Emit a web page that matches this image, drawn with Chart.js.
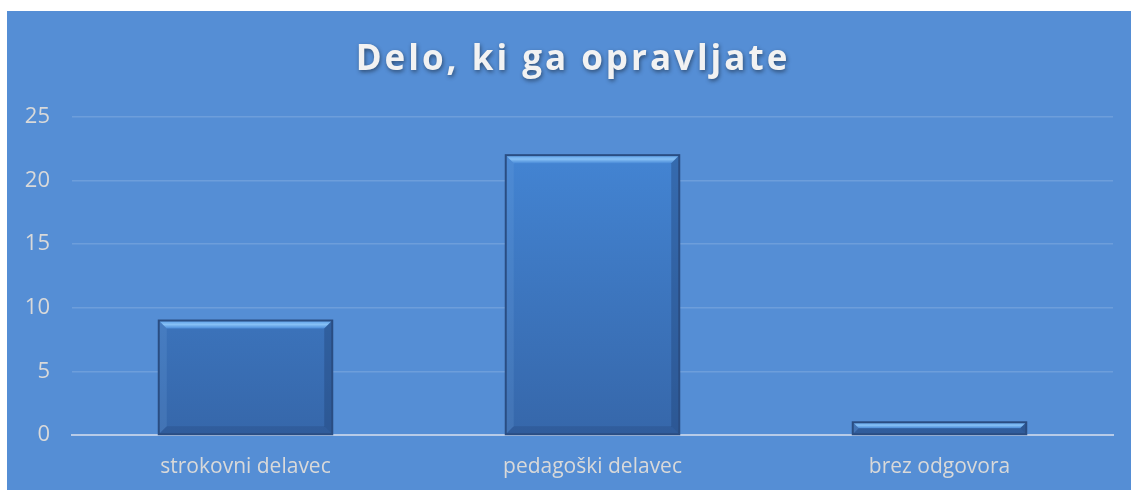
<!DOCTYPE html>
<html>
<head>
<meta charset="utf-8">
<script src="https://cdn.jsdelivr.net/npm/chart.js@4.4.1/dist/chart.umd.min.js"></script>
<style>
  html, body { margin: 0; padding: 0; background: #ffffff; }
  #okvir { position: absolute; left: 7px; top: 11px; width: 1124px; height: 479px; background: #558ed5; }
</style>
</head>
<body>
<div id="okvir"><canvas id="grafica" width="1124" height="479"></canvas></div>
<script>
const $grafica = document.querySelector("#grafica");

// podatki
const kategorije = ['strokovni delavec', 'pedagoški delavec', 'brez odgovora'];
const odgovori = [9, 22, 1];
const naslov = 'Delo, ki ga opravljate';

const pisava = "'Open Sans', 'Noto Sans', sans-serif";

// gradient za stolpce
function polnilo(context) {
    const area = context.chart.chartArea;
    if (!area) return '#4080cf';
    const g = context.chart.ctx.createLinearGradient(0, area.top, 0, area.bottom);
    g.addColorStop(0, '#4588d8');
    g.addColorStop(1, '#3667aa');
    return g;
}

// reliefni rob na vrhu stolpcev
const relief = {
    id: 'relief',
    afterDatasetsDraw(chart) {
        const ctx = chart.ctx;
        chart.getDatasetMeta(0).data.forEach(bar => {
            const l = bar.x - bar.width / 2, r = bar.x + bar.width / 2;
            const t = bar.y, b = bar.base;
            const h = Math.min(8, (b - t) / 2);
            ctx.save();
            const g = ctx.createLinearGradient(0, t, 0, t + h);
            g.addColorStop(0, '#5a9de6');
            g.addColorStop(0.5, '#86c0f5');
            g.addColorStop(1, '#4a8bd8');
            ctx.fillStyle = g;
            ctx.beginPath();
            ctx.moveTo(l, t); ctx.lineTo(r, t); ctx.lineTo(r - h, t + h); ctx.lineTo(l + h, t + h);
            ctx.closePath(); ctx.fill();
            // stranici
            ctx.fillStyle = 'rgba(30,60,110,0.35)';
            ctx.beginPath();
            ctx.moveTo(r, t); ctx.lineTo(r, b); ctx.lineTo(r - h, b - h); ctx.lineTo(r - h, t + h);
            ctx.closePath(); ctx.fill();
            ctx.fillStyle = 'rgba(120,170,230,0.18)';
            ctx.beginPath();
            ctx.moveTo(l, t); ctx.lineTo(l + h, t + h); ctx.lineTo(l + h, b - h); ctx.lineTo(l, b);
            ctx.closePath(); ctx.fill();
            ctx.fillStyle = 'rgba(30,60,110,0.25)';
            ctx.beginPath();
            ctx.moveTo(l, b); ctx.lineTo(r, b); ctx.lineTo(r - h, b - h); ctx.lineTo(l + h, b - h);
            ctx.closePath(); ctx.fill();
            ctx.strokeStyle = '#2a4d82';
            ctx.lineWidth = 2;
            ctx.strokeRect(l, t, r - l, b - t);
            ctx.restore();
        });
    }
};

// razmik črk in senca pri naslovu
const naslovSenca = {
    id: 'naslovSenca',
    afterLayout(chart) {
        const blok = chart.titleBlock;
        if (!blok || blok._ovit) return;
        const izvirni = blok.draw;
        blok.draw = function () {
            const ctx = chart.ctx;
            ctx.save();
            ctx.translate(13, 0);
            ctx.letterSpacing = '3px';
            ctx.shadowColor = 'rgba(0,0,0,0.45)';
            ctx.shadowBlur = 4;
            ctx.shadowOffsetX = 1;
            ctx.shadowOffsetY = 2;
            izvirni.call(this);
            ctx.restore();
        };
        blok._ovit = true;
    }
};

new Chart($grafica, {
    type: 'bar',
    data: {
        labels: kategorije,
        datasets: [{
            label: 'Delo',
            data: odgovori,
            backgroundColor: polnilo,
            borderWidth: 0,
            barPercentage: 0.5,
            categoryPercentage: 1.0
        }]
    },
    options: {
        responsive: false,
        animation: false,
        layout: { padding: { left: 0, right: 18, top: 0, bottom: 2 } },
        plugins: {
            legend: { display: false },
            tooltip: { enabled: false },
            title: {
                display: true,
                text: naslov,
                color: '#f2f2f2',
                font: { family: pisava, size: 35, weight: 'bold' },
                padding: { top: 28, bottom: 36 }
            }
        },
        scales: {
            y: {
                min: 0,
                max: 25,
                ticks: {
                    stepSize: 5,
                    color: '#d9d9d9',
                    font: { family: pisava, size: 22 },
                    padding: 22
                },
                grid: { color: 'rgba(255,255,255,0.14)', lineWidth: 1.5, drawTicks: false },
                border: { display: false },
                afterFit(scale) { scale.width = 65; }
            },
            x: {
                ticks: {
                    color: '#d9d9d9',
                    font: { family: pisava, size: 21 },
                    padding: 19
                },
                grid: { display: false, drawTicks: false },
                border: { display: true, color: '#b7cbe8', width: 2 },
                afterFit(scale) { scale.height = 53; }
            }
        }
    },
    plugins: [relief, naslovSenca]
});
</script>
</body>
</html>
